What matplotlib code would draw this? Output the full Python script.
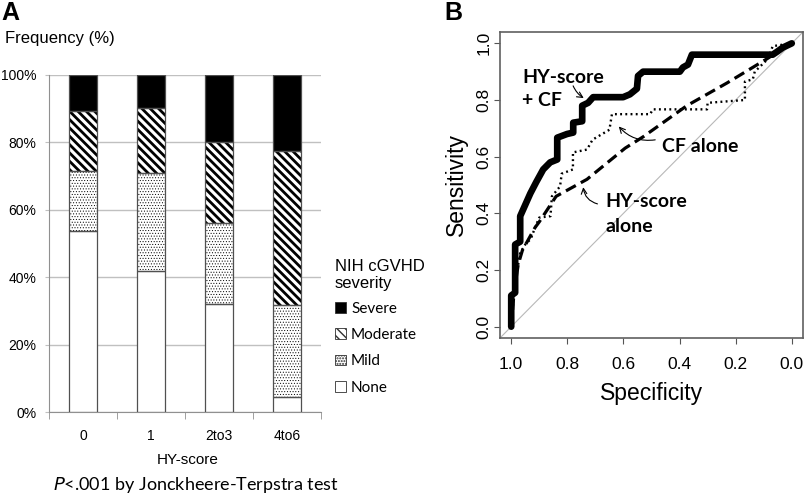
import matplotlib
matplotlib.use('Agg')
import matplotlib.pyplot as plt
from matplotlib.patches import Patch

# Panel A: NIH cGVHD severity by HY-score (percent of patients)
categories = ['0', '1', '2to3', '4to6']
none_pct = [53.6, 41.9, 32.0, 4.5]
mild_pct = [17.9, 29.0, 24.0, 27.3]
moderate_pct = [17.9, 19.4, 24.0, 45.5]
severe_pct = [10.7, 9.7, 20.0, 22.7]
severity_labels = ['Severe', 'Moderate', 'Mild', 'None']
pct_ticks = [0, 20, 40, 60, 80, 100]

# Panel B: ROC curves (specificity, sensitivity)
combo_spec = [1.0, 1.0, 0.986, 0.986, 0.968, 0.968, 0.95, 0.932, 0.911, 0.886, 0.861,
              0.836, 0.836, 0.801, 0.779, 0.779, 0.747, 0.747, 0.726, 0.708, 0.601,
              0.577, 0.552, 0.548, 0.530, 0.399, 0.388, 0.370, 0.356, 0.068, 0.053,
              0.032, 0.0]
combo_sens = [0.0, 0.11, 0.12, 0.29, 0.30, 0.39, 0.43, 0.47, 0.51, 0.555, 0.58,
              0.59, 0.667, 0.68, 0.685, 0.72, 0.725, 0.78, 0.79, 0.81, 0.81,
              0.82, 0.84, 0.885, 0.90, 0.90, 0.915, 0.925, 0.96, 0.96, 0.97,
              0.985, 1.0]
cf_spec = [1.0, 0.99, 0.975, 0.968, 0.95, 0.93, 0.915, 0.90, 0.86, 0.855, 0.826,
           0.82, 0.78, 0.78, 0.73, 0.71, 0.65, 0.641, 0.505, 0.495, 0.302, 0.30,
           0.167, 0.167, 0.139, 0.132, 0.085, 0.068, 0.0]
cf_sens = [0.0, 0.12, 0.22, 0.26, 0.29, 0.31, 0.35, 0.385, 0.39, 0.46, 0.495,
           0.54, 0.555, 0.615, 0.625, 0.66, 0.695, 0.75, 0.75, 0.767, 0.767, 0.79,
           0.80, 0.865, 0.873, 0.90, 0.945, 0.99, 1.0]
hy_spec = [1.0, 0.99, 0.975, 0.96, 0.915, 0.90, 0.84, 0.73, 0.594, 0.53, 0.374,
           0.231, 0.089, 0.018, 0.0]
hy_sens = [0.0, 0.12, 0.22, 0.27, 0.35, 0.37, 0.46, 0.52, 0.63, 0.67, 0.78,
           0.86, 0.945, 0.99, 1.0]
roc_ticks = [0.0, 0.2, 0.4, 0.6, 0.8, 1.0]

plt.rcParams['font.family'] = ['Liberation Sans', 'DejaVu Sans']
plt.rcParams['hatch.color'] = 'black'

fig = plt.figure(figsize=(8.1, 4.95), dpi=100)

# ---------------- Panel A ----------------
axA = fig.add_axes([49/810, 1 - 412/495, 272/810, 337/495])
x = list(range(len(categories)))
width = 0.4

bslash = chr(92)
layers = [
    ('None', none_pct, 'white', None, 0.0),
    ('Mild', mild_pct, 'white', '.' * 6, 0.4),
    ('Moderate', moderate_pct, 'white', bslash * 4, 2.0),
    ('Severe', severe_pct, 'black', None, 0.0),
]
bottom = [0.0] * len(categories)
legend_handles = {}
for name, vals, fc, hatch, hlw in layers:
    plt.rcParams['hatch.linewidth'] = hlw if hlw else 1.0
    bars = axA.bar(x, vals, width, bottom=bottom, color=fc, hatch=hatch,
                   edgecolor='black', linewidth=0, zorder=2)
    for p in bars:
        if hasattr(p, 'set_hatch_linewidth') and hlw:
            p.set_hatch_linewidth(hlw)
    axA.bar(x, vals, width, bottom=bottom, fill=False, edgecolor='#505050',
            linewidth=0.9, zorder=3)
    h = Patch(facecolor=fc, hatch=hatch, edgecolor='#303030', linewidth=0.6)
    if hasattr(h, 'set_hatch_linewidth') and hlw:
        h.set_hatch_linewidth(hlw * 0.6)
    legend_handles[name] = h
    bottom = [b + v for b, v in zip(bottom, vals)]
plt.rcParams['hatch.linewidth'] = 1.0

axA.set_xlim(-0.5, 3.5)
axA.set_ylim(0, 100)
axA.set_yticks(pct_ticks)
axA.set_yticklabels([f'{t}%' for t in pct_ticks], fontsize=10)
axA.yaxis.grid(True, color='#c0c0c0', linewidth=1.0, zorder=0)
axA.set_axisbelow(True)
axA.set_xticks(x)
axA.set_xticklabels(categories, fontsize=10)
axA.set_xticks([-0.5, 0.5, 1.5, 2.5, 3.5], minor=True)
axA.tick_params(axis='x', which='major', length=0, pad=12)
axA.tick_params(axis='x', which='minor', length=5, color='#909090', direction='out')
axA.tick_params(axis='y', length=3, color='#c0c0c0', pad=6)
for s in ['top', 'right']:
    axA.spines[s].set_visible(False)
axA.spines['left'].set_color('#909090')
axA.spines['bottom'].set_color('#909090')

leg = axA.legend([legend_handles[n] for n in severity_labels], severity_labels,
                 loc='upper left', bbox_to_anchor=(335/810, 1 - 259/495),
                 bbox_transform=fig.transFigure, frameon=False,
                 title='NIH cGVHD\nseverity', alignment='left',
                 handlelength=0.7, handleheight=0.7, handletextpad=0.35,
                 labelspacing=0.8, borderpad=0, borderaxespad=0,
                 prop={'family': ['Lato', 'DejaVu Sans'], 'size': 11},
                 title_fontproperties={'family': ['Liberation Sans'], 'size': 12})
leg.get_title().set_linespacing(1.15)
leg._legend_box.sep = 8

fig.text(1/810, 1 - 1/495, 'A', fontsize=18, fontweight='bold', va='top', ha='left')
fig.text(5/810, 1 - 39/495, 'Frequency (%)', fontsize=12, va='center', ha='left')
fig.text(188/810, 1 - 460/495, 'HY-score', fontsize=11, va='center', ha='center')
fig.text(53/810, 1 - 485/495, r'$\it{P}$<.001 by Jonckheere-Terpstra test', fontsize=13,
         va='center', ha='left', family=['Lato', 'DejaVu Sans'])

# ---------------- Panel B ----------------
axB = fig.add_axes([500/810, 1 - 338/495, 303/810, 306/495])
axB.axline((1, 0), (0, 1), color='#b8b8b8', linewidth=0.8, zorder=1)
axB.plot(hy_spec, hy_sens, color='black', linewidth=2.3, dashes=(3.5, 1.8), zorder=2)
axB.plot(cf_spec, cf_sens, color='black', linewidth=1.7, dashes=(0.8, 1.4), zorder=3)
axB.plot(combo_spec, combo_sens, color='black', linewidth=4.8,
         solid_joinstyle='round', solid_capstyle='round', zorder=4)

axB.set_xlim(1.04, -0.04)
axB.set_ylim(-0.04, 1.04)
axB.set_xticks(roc_ticks)
axB.set_xticklabels([f'{t:.1f}' for t in roc_ticks], fontsize=12.5)
axB.set_yticks(roc_ticks)
axB.set_yticklabels([f'{t:.1f}' for t in roc_ticks], fontsize=12.5, rotation=90,
                    va='center')
axB.tick_params(length=4, color='#555555')
axB.tick_params(axis='x', pad=10)
axB.tick_params(axis='y', pad=2)
for s in axB.spines.values():
    s.set_color('#606060')
    s.set_linewidth(1.2)
axB.set_xlabel('Specificity', fontsize=16.5, labelpad=7)
axB.set_ylabel('Sensitivity', fontsize=16.5, labelpad=6)

bold = dict(fontsize=14, fontweight='bold', family=['Lato', 'DejaVu Sans'])
axB.text(0.961, 0.88, 'HY-score', va='center', ha='left', **bold)
axB.text(0.961, 0.80, '+ CF', va='center', ha='left', **bold)
axB.annotate('', xy=(0.733, 0.802), xytext=(0.783, 0.859),
             arrowprops=dict(arrowstyle='->', lw=0.8, color='black',
                             connectionstyle='arc3,rad=0.2'))
axB.text(0.463, 0.636, 'CF alone', va='center', ha='left', **bold)
axB.annotate('', xy=(0.623, 0.714), xytext=(0.477, 0.661),
             arrowprops=dict(arrowstyle='->', lw=0.8, color='black',
                             connectionstyle='arc3,rad=-0.3'))
axB.text(0.665, 0.442, 'HY-score', va='center', ha='left', **bold)
axB.text(0.665, 0.353, 'alone', va='center', ha='left', **bold)
axB.annotate('', xy=(0.744, 0.502), xytext=(0.683, 0.431),
             arrowprops=dict(arrowstyle='->', lw=0.8, color='black',
                             connectionstyle='arc3,rad=-0.4'))

fig.text(444/810, 1 - 1/495, 'B', fontsize=18, fontweight='bold', va='top', ha='left')

fig.savefig('out.png', dpi=100)
